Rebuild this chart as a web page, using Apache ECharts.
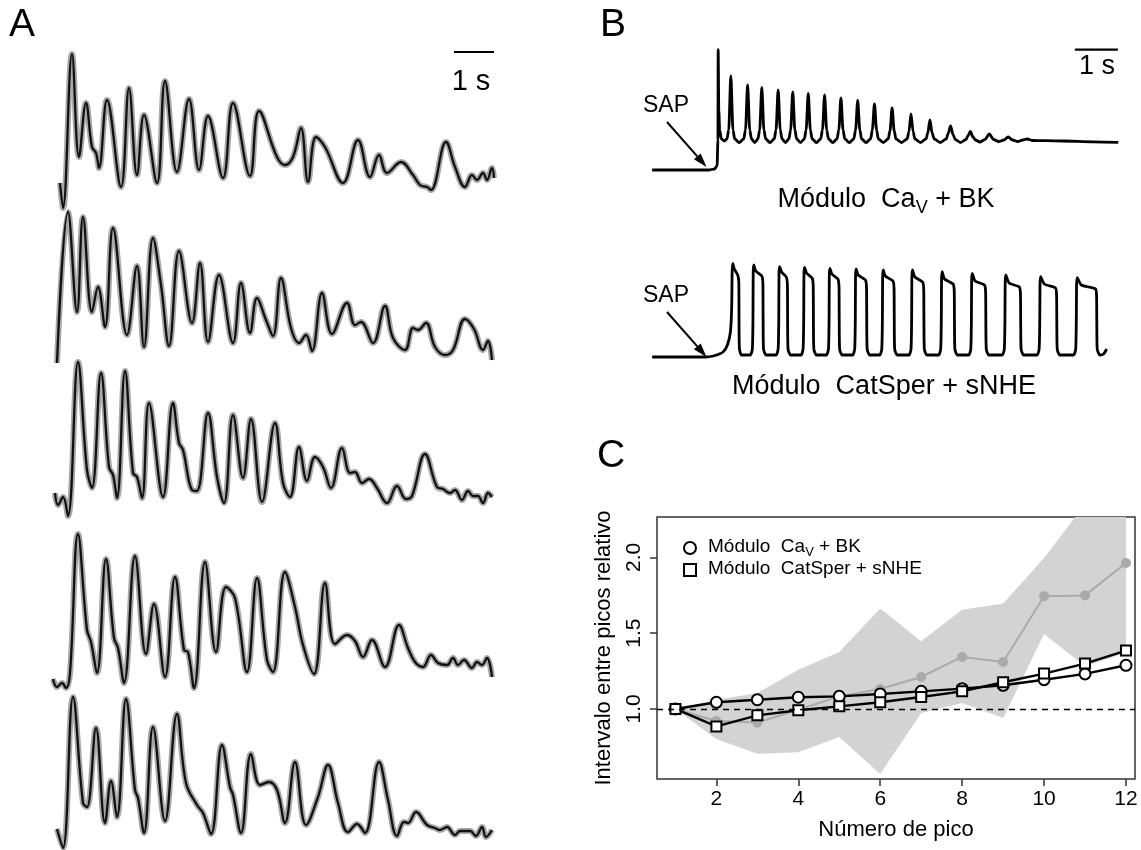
<!DOCTYPE html>
<html>
<head>
<meta charset="utf-8">
<script src="https://cdn.jsdelivr.net/npm/echarts@6/dist/echarts.min.js"></script>
<style>
  html, body { margin: 0; padding: 0; background: #fff; }
  #chart { width: 1141px; height: 850px; }
</style>
</head>
<body>
<div id="chart"></div>
<script>
// Panel A: recorded traces, [frame, fluorescence a.u.], ~40 frames per second
const traceA1 = [[7,29],[10,4],[19,158],[26,55],[33,109],[39,65],[43,59],[46,44],[54,112],[68,25],[76,124],[84,37],[91,97],[104,29],[112,131],[124,40],[136,113],[146,42],[155,96],[170,34],[180,109],[197,36],[206,101],[224,55],[232,47],[240,55],[248,84],[255,30],[263,75],[272,65],[290,29],[305,72],[317,35],[326,57],[334,39],[348,50],[360,37],[367,27],[374,25],[378,22],[393,70],[402,45],[412,25],[419,37],[424,32],[430,39],[434,32],[439,44],[441,34]];
const traceA2 = [[4,2],[15,153],[24,53],[30,148],[39,53],[45,78],[52,38],[60,137],[74,30],[84,99],[91,18],[100,127],[108,80],[116,19],[126,114],[139,42],[147,102],[155,23],[166,90],[180,22],[188,82],[197,32],[204,67],[213,45],[220,29],[228,87],[238,37],[246,22],[253,30],[259,14],[269,72],[279,31],[294,62],[302,40],[308,43],[320,22],[332,59],[340,27],[352,15],[360,37],[365,35],[373,42],[382,18],[392,10],[400,15],[412,46],[421,36],[430,15],[435,24],[439,5]];
const traceA3 = [[2,25],[5,13],[10,21],[15,2],[25,156],[34,48],[39,30],[48,145],[56,51],[60,43],[64,20],[72,147],[80,45],[84,41],[89,20],[96,115],[110,21],[120,115],[126,75],[130,68],[139,28],[144,27],[155,105],[164,41],[171,15],[180,103],[190,40],[198,99],[209,16],[222,95],[230,35],[237,21],[246,71],[254,37],[262,61],[270,51],[278,30],[289,70],[297,45],[302,46],[309,35],[316,39],[324,30],[334,15],[344,32],[353,19],[359,22],[372,64],[384,31],[390,29],[397,25],[402,28],[409,18],[415,27],[420,22],[425,22],[430,15],[435,25],[439,21]];
const traceA4 = [[0,11],[4,3],[9,7],[13,2],[17,17],[25,156],[34,60],[38,48],[44,17],[53,131],[61,52],[65,42],[71,7],[82,134],[93,36],[101,86],[112,13],[122,113],[131,40],[135,38],[141,2],[152,128],[163,38],[173,103],[182,92],[194,18],[204,112],[214,30],[220,18],[232,118],[242,83],[250,45],[261,16],[272,107],[282,46],[294,55],[302,49],[310,33],[319,50],[332,23],[346,65],[355,42],[362,28],[370,23],[378,35],[385,27],[394,25],[400,32],[405,25],[411,30],[419,22],[424,28],[429,25],[434,32],[439,13]];
const traceA5 = [[4,21],[10,2],[20,153],[30,47],[34,43],[43,122],[52,27],[58,69],[64,33],[73,151],[82,60],[85,52],[91,17],[100,123],[112,29],[124,136],[133,67],[144,45],[150,37],[158,16],[169,105],[177,63],[180,55],[188,17],[198,96],[207,65],[216,68],[224,60],[232,27],[242,88],[253,25],[265,53],[275,85],[285,47],[295,18],[304,26],[312,17],[326,88],[335,50],[344,14],[351,28],[355,27],[363,38],[374,25],[382,22],[387,20],[394,23],[402,15],[407,19],[417,19],[423,14],[429,23],[433,13],[439,20]];
const scaleBarA = [401, 441]; // frames = 1 s

// Panel B: simulated traces, [time s, amplitude a.u.]
const simCaVBK = [[0.05,0],[1.36,0],[1.50,1],[1.56,4],[1.58,30],[1.585,120.4],[1.60,60],[1.62,40],[1.66,31],[1.73,29],[1.79,31],[1.83,40],
  [1.88,94],[1.93,40],[1.97,31],[2.075,27.5],[2.18,31],[2.22,40],
  [2.27,85],[2.32,40],[2.36,31],[2.435,27.5],[2.51,31],[2.55,40],
  [2.60,82.5],[2.65,40],[2.69,31],[2.79,27.5],[2.89,31],[2.93,40],
  [2.98,80],[3.03,40],[3.07,31],[3.15,27.5],[3.23,31],[3.27,40],
  [3.32,78],[3.37,40],[3.41,31],[3.50,27.5],[3.59,31],[3.63,40],
  [3.68,76.5],[3.73,40],[3.77,31],[3.87,27.5],[3.97,31],[4.01,40],
  [4.06,75],[4.11,40],[4.15,31],[4.25,27.5],[4.35,31],[4.39,40],
  [4.44,72],[4.49,40],[4.53,31],[4.635,27.5],[4.74,31],[4.78,40],
  [4.83,69.5],[4.88,40],[4.92,31],[5.025,27.5],[5.13,31],[5.17,40],
  [5.22,66],[5.27,40],[5.31,31],[5.425,27.5],[5.54,31],[5.58,39],
  [5.63,62],[5.68,39],[5.72,31],[5.85,27.5],[5.98,31],[6.02,38],
  [6.07,56],[6.12,38],[6.16,31],[6.29,27.5],[6.42,31],[6.46,37],
  [6.51,50],[6.56,37],[6.61,31],[6.75,27.5],[6.89,31],[6.93,36],
  [6.99,44],[7.05,35],[7.10,30.5],[7.22,27.5],[7.35,30.5],[7.39,34],
  [7.45,38.5],[7.51,33],[7.57,30],[7.67,28],[7.79,30.5],
  [7.89,36],[7.99,30.5],[8.11,28.5],[8.23,30],
  [8.33,33],[8.43,30],[8.55,28.5],[8.67,30],
  [8.77,31],[8.9,29.5],[9.2,29.3],[9.6,29],[10.3,28.2],[10.89,27.7]];
const simCatSper = [[0.05,0],[1.28,0],[1.47,1],[1.70,5],[1.80,12],[1.87,25],[1.90,50],
  [1.91,85],[1.925,93.7],[1.96,88],[2.04,82],[2.065,75],[2.07,40],[2.08,8],[2.13,2],
  [2.33,2],[2.38,8],[2.395,40],[2.40,85],[2.415,92],[2.46,86],[2.60,81],[2.625,74],[2.63,40],[2.64,8],[2.70,2],
  [2.93,2],[2.98,8],[2.995,40],[3.00,84],[3.015,90.3],[3.06,85],[3.17,80],[3.195,73],[3.20,40],[3.21,8],[3.27,2],
  [3.51,2],[3.56,8],[3.575,40],[3.58,83],[3.595,89.7],[3.64,84],[3.77,79],[3.795,72],[3.80,40],[3.81,8],[3.87,2],
  [4.10,2],[4.15,8],[4.165,40],[4.17,82],[4.185,88.7],[4.23,83],[4.37,78],[4.395,71],[4.40,40],[4.41,8],[4.47,2],
  [4.71,2],[4.76,8],[4.775,40],[4.78,81],[4.795,88],[4.84,82],[5.01,77],[5.035,70],[5.04,40],[5.05,8],[5.11,2],
  [5.34,2],[5.39,8],[5.405,40],[5.41,80],[5.425,87],[5.47,81],[5.65,76],[5.675,69],[5.68,40],[5.69,8],[5.75,2],
  [6.02,2],[6.07,8],[6.085,40],[6.09,80],[6.105,87],[6.16,80],[6.34,75],[6.365,68],[6.37,40],[6.38,8],[6.44,2],
  [6.71,2],[6.76,8],[6.775,40],[6.78,78],[6.795,85.3],[6.85,78],[7.05,73],[7.075,66],[7.08,40],[7.09,8],[7.15,2],
  [7.41,2],[7.46,8],[7.475,40],[7.48,77],[7.495,83.7],[7.56,76],[7.78,72],[7.805,65],[7.81,40],[7.82,8],[7.88,2],
  [8.19,2],[8.24,8],[8.255,40],[8.26,75],[8.275,82],[8.35,74],[8.59,70],[8.615,63],[8.62,40],[8.63,8],[8.69,2],
  [9.00,2],[9.05,8],[9.065,40],[9.07,73],[9.085,80.3],[9.17,73],[9.43,69],[9.455,62],[9.46,40],[9.47,8],[9.53,2],
  [9.85,2],[9.90,8],[9.915,40],[9.92,72],[9.935,79.3],[10.03,72],[10.36,68],[10.385,61],[10.39,40],[10.40,8],[10.46,2],
  [10.55,3],[10.62,8]];
const scaleBarB = [9.88, 10.88]; // s

// Panel C
const peakNumber = [1, 2, 3, 4, 5, 6, 7, 8, 9, 10, 11, 12];
const intervalCaVBK = [1.00, 1.044, 1.061, 1.077, 1.083, 1.099, 1.116, 1.134, 1.156, 1.193, 1.231, 1.288];
const intervalCatSper = [1.00, 0.885, 0.958, 0.991, 1.017, 1.044, 1.079, 1.116, 1.176, 1.233, 1.299, 1.385];
const intervalExp = [1.00, 0.92, 0.91, 0.995, 1.083, 1.132, 1.211, 1.343, 1.310, 1.743, 1.749, 1.963];
const expBandHigh = [1.00, 1.06, 1.105, 1.259, 1.376, 1.662, 1.446, 1.655, 1.695, 1.996, 2.35, 2.6];
const expBandLow = [1.00, 0.802, 0.705, 0.714, 0.815, 0.571, 0.974, 1.04, 0.941, 1.495, 1.281, 1.37];
const xTicksC = [2, 4, 6, 8, 10, 12];
const yTicksC = [1.0, 1.5, 2.0];

const FONT = "'Liberation Sans', Arial, sans-serif";
const chart = echarts.init(document.getElementById('chart'));

const pairs = (xs, ys) => xs.map((x, i) => [x, ys[i]]);

const aGrids = [52, 205, 358, 530, 690].map((top) => ({ left: 53, top: top, width: 442, height: 160 }));
const grids = aGrids.concat([
  { left: 650, top: 45, width: 470, height: 125 },
  { left: 650, top: 257, width: 470, height: 100 },
  { left: 657, top: 517, width: 478, height: 262, show: true, borderColor: '#333', borderWidth: 1.5 },
]);

const hiddenX = (i, max) => ({ gridIndex: i, type: 'value', min: 0, max: max, show: false });
const hiddenY = (i, max) => ({ gridIndex: i, type: 'value', min: 0, max: max, show: false });

const xAxes = [0, 1, 2, 3, 4].map((i) => hiddenX(i, 442)).concat([
  hiddenX(5, 470 / 43),
  hiddenX(6, 470 / 43),
  {
    gridIndex: 7, type: 'value', min: 0.55, max: 12.22,
    axisLine: { show: false }, splitLine: { show: false },
    axisTick: { show: true, length: 7, customValues: xTicksC, lineStyle: { color: '#333', width: 1.5 } },
    axisLabel: { customValues: xTicksC, fontSize: 21, color: '#000', margin: 10, fontFamily: FONT },
    name: 'Número de pico', nameLocation: 'middle', nameGap: 40,
    nameTextStyle: { fontSize: 22, color: '#000', fontFamily: FONT },
  },
]);
const yAxes = [0, 1, 2, 3, 4].map((i) => hiddenY(i, 160)).concat([
  hiddenY(5, 125),
  hiddenY(6, 100),
  {
    gridIndex: 7, type: 'value', min: 0.538, max: 2.266,
    axisLine: { show: false }, splitLine: { show: false },
    axisTick: { show: true, length: 7, customValues: yTicksC, lineStyle: { color: '#333', width: 1.5 } },
    axisLabel: {
      customValues: yTicksC, rotate: 90, fontSize: 21, color: '#000', margin: 12, fontFamily: FONT,
      formatter: (v) => v.toFixed(1),
    },
    name: 'Intervalo entre picos relativo', nameLocation: 'middle', nameGap: 42, nameRotate: 90,
    nameTextStyle: { fontSize: 22, color: '#000', fontFamily: FONT },
  },
]);

const series = [];
[traceA1, traceA2, traceA3, traceA4, traceA5].forEach((tr, i) => {
  // gray (raw) underneath, black (filtered) on top
  series.push({
    type: 'line', xAxisIndex: i, yAxisIndex: i, data: tr, smooth: 0.4, showSymbol: false,
    clip: false, silent: true, z: 1, lineStyle: { color: '#a8a8a8', width: 6 },
  });
  series.push({
    type: 'line', xAxisIndex: i, yAxisIndex: i, data: tr, smooth: 0.4, showSymbol: false,
    clip: false, silent: true, z: 2, lineStyle: { color: '#111', width: 2.3 },
  });
});
series.push({
  type: 'line', xAxisIndex: 0, yAxisIndex: 0, data: scaleBarA.map((f) => [f, 160]),
  showSymbol: false, clip: false, silent: true, lineStyle: { color: '#000', width: 2.2 },
});
series.push({
  type: 'line', xAxisIndex: 5, yAxisIndex: 5, data: simCaVBK, smooth: 0.3, smoothMonotone: 'x',
  showSymbol: false, clip: false, silent: true, lineStyle: { color: '#000', width: 2.8 },
});
series.push({
  type: 'line', xAxisIndex: 5, yAxisIndex: 5, data: scaleBarB.map((t) => [t, 120.4]),
  showSymbol: false, clip: false, silent: true, lineStyle: { color: '#000', width: 2.2 },
});
series.push({
  type: 'line', xAxisIndex: 6, yAxisIndex: 6, data: simCatSper, smooth: 0.2,
  showSymbol: false, clip: false, silent: true, lineStyle: { color: '#000', width: 2.8 },
});

// Panel C
series.push({
  type: 'custom', xAxisIndex: 7, yAxisIndex: 7, data: [[1, 1]], clip: true, silent: true, z: 1,
  renderItem: function (params, api) {
    const pts = [];
    peakNumber.forEach((p, i) => pts.push(api.coord([p, expBandHigh[i]])));
    for (let i = peakNumber.length - 1; i >= 0; i--) pts.push(api.coord([peakNumber[i], expBandLow[i]]));
    return { type: 'polygon', shape: { points: pts }, style: { fill: '#d3d3d3' } };
  },
});
series.push({
  name: 'exp', type: 'line', xAxisIndex: 7, yAxisIndex: 7, data: pairs(peakNumber, intervalExp),
  symbol: 'circle', symbolSize: 10, z: 2, silent: true,
  lineStyle: { color: '#aaaaaa', width: 2 }, itemStyle: { color: '#aaaaaa' },
  markLine: {
    silent: true, symbol: 'none', label: { show: false },
    lineStyle: { color: '#000', width: 1.3, type: [6, 5] },
    data: [{ yAxis: 1 }],
  },
});
series.push({
  name: 'cav', type: 'line', xAxisIndex: 7, yAxisIndex: 7, data: pairs(peakNumber, intervalCaVBK),
  symbol: 'circle', symbolSize: 11, z: 3, silent: true,
  lineStyle: { color: '#000', width: 2.4 },
  itemStyle: { color: '#fff', borderColor: '#000', borderWidth: 2 },
});
series.push({
  name: 'cat', type: 'line', xAxisIndex: 7, yAxisIndex: 7, data: pairs(peakNumber, intervalCatSper),
  symbol: 'rect', symbolSize: 10, z: 4, silent: true,
  lineStyle: { color: '#000', width: 2.4 },
  itemStyle: { color: '#fff', borderColor: '#000', borderWidth: 2 },
});

const richC = {
  f: { fontSize: 19, lineHeight: 22, verticalAlign: 'top', padding: [0, 0, 0, 7], fontFamily: FONT, color: '#000' },
  a: { fontSize: 19, lineHeight: 22, verticalAlign: 'top', fontFamily: FONT, color: '#000' },
  s: { fontSize: 13, lineHeight: 13, verticalAlign: 'top', padding: [9, 0, 0, 0], fontFamily: FONT, color: '#000' },
};
const richB = {
  a: { fontSize: 27, lineHeight: 30, verticalAlign: 'top', fontFamily: FONT, fill: '#000', color: '#000' },
  s: { fontSize: 18, lineHeight: 18, verticalAlign: 'top', padding: [13, 0, 0, 0], fontFamily: FONT, fill: '#000', color: '#000' },
};

const txt = (text, x, y, size) => ({
  type: 'text', silent: true,
  style: {
    text: text, x: x, y: y, fontSize: size, fontFamily: FONT, fill: '#000',
    align: 'center', verticalAlign: 'middle', textAlign: 'center', textVerticalAlign: 'middle',
  },
});

const arrow = (x1, y1, tip, wing1, wing2, base) => [
  { type: 'line', silent: true, shape: { x1: x1, y1: y1, x2: base[0], y2: base[1] }, style: { stroke: '#000', lineWidth: 2 } },
  { type: 'polygon', silent: true, shape: { points: [tip, wing1, wing2] }, style: { fill: '#000' } },
];

const graphic = [
  txt('A', 22, 25, 39),
  txt('B', 613, 25, 39),
  txt('C', 611, 456, 39),
  txt('1 s', 471, 82, 29),
  txt('1 s', 1097, 67, 27),
  txt('SAP', 666, 106, 23),
  txt('SAP', 666, 296, 23),
  {
    type: 'text', silent: true,
    style: {
      text: '{a|Módulo  Ca}{s|V}{a| + BK}', rich: richB, x: 886, y: 201,
      align: 'center', verticalAlign: 'middle', textAlign: 'center', textVerticalAlign: 'middle',
    },
  },
  txt('Módulo  CatSper + sNHE', 884, 387, 27),
].concat(
  arrow(667, 122, [706.5, 167], [693.9, 159.3], [700.7, 153.5], [697.3, 156.4]),
  arrow(667, 312, [706.5, 357], [693.9, 349.3], [700.7, 343.5], [697.3, 346.4])
);

chart.setOption({
  animation: false,
  backgroundColor: '#fff',
  textStyle: { fontFamily: FONT },
  grid: grids,
  xAxis: xAxes,
  yAxis: yAxes,
  legend: {
    left: 683, top: 537, orient: 'vertical', itemGap: 0, itemWidth: 12, itemHeight: 12, padding: 0,
    selectedMode: false,
    data: [{ name: 'cav', icon: 'circle' }, { name: 'cat', icon: 'rect' }],
    itemStyle: { color: '#fff', borderColor: '#000', borderWidth: 2 },
    formatter: (name) => name === 'cav'
      ? '{f|Módulo  Ca}{s|V}{a| + BK}'
      : '{f|Módulo  CatSper + sNHE}',
    textStyle: { rich: richC, fontFamily: FONT, fontSize: 19 },
  },
  graphic: graphic,
  series: series,
});
</script>
</body>
</html>
